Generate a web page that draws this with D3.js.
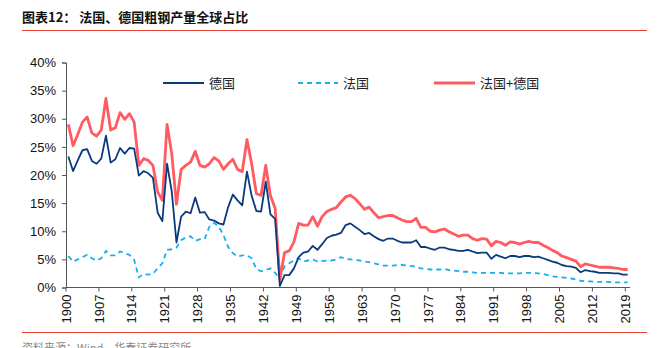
<!DOCTYPE html>
<html><head><meta charset="utf-8">
<script src="https://cdn.jsdelivr.net/npm/d3@7"></script>
<style>
html,body{margin:0;padding:0;background:#fff;}
svg{display:block;}
text{font-family:"Liberation Sans",Arial,sans-serif;}
.cjk{font-family:"Noto Sans CJK SC","Noto Sans",sans-serif;}
</style></head>
<body>
<svg id="chart" width="670" height="348"></svg>
<script>
const startYear = 1900, endYear = 2019;
const years = d3.range(startYear, endYear + 1);
const tickYears = [1900,1907,1914,1921,1928,1935,1942,1949,1956,1963,1970,1977,1984,1991,1998,2005,2012,2019];
const yTicks = [0,5,10,15,20,25,30,35,40];

const germany = [
23.3,20.7,22.6,24.4,24.6,22.5,22.0,22.9,27.0,22.2,
22.8,24.8,23.8,24.8,24.7,19.9,20.7,20.3,19.5,13.3,
11.8,22.0,17.1,8.0,12.6,13.5,13.2,16.0,13.3,13.4,
12.1,11.9,11.4,11.2,14.3,16.5,15.5,14.6,20.6,16.3,
13.6,13.5,18.8,13.0,12.2,0.3,2.2,2.2,3.4,5.4,
6.2,6.4,7.4,6.7,7.7,8.8,9.2,9.4,9.7,11.1,
11.4,10.8,10.2,9.5,9.7,9.1,8.6,8.3,8.7,8.7,
8.3,8.0,8.0,8.0,8.4,7.2,7.2,6.9,6.7,7.1,
7.1,6.8,6.7,6.5,6.5,6.7,6.4,6.1,6.2,6.2,
5.1,5.8,5.5,5.2,5.6,5.6,5.4,5.6,5.6,5.4,
5.5,5.2,4.9,4.6,4.4,4.0,3.8,3.7,3.5,2.7,
3.1,2.9,2.8,2.6,2.6,2.6,2.5,2.5,2.3,2.3];

const france = [
5.6,4.6,5.0,5.4,5.8,5.2,4.8,5.2,6.5,5.7,
5.7,6.4,6.1,5.8,4.9,1.8,2.4,2.3,2.4,3.4,
4.3,6.7,6.8,7.1,8.4,8.9,9.1,8.3,8.6,8.6,
10.8,11.5,10.8,9.3,7.2,6.1,5.5,5.7,5.7,5.2,
3.3,2.9,3.1,3.4,2.6,1.6,3.8,4.3,4.8,5.2,
4.6,4.8,5.0,4.6,4.7,4.8,4.8,5.0,5.4,5.1,
5.0,4.9,4.8,4.6,4.5,4.3,4.1,3.9,3.9,3.9,
4.0,4.0,3.9,3.8,3.7,3.4,3.3,3.2,3.2,3.2,
3.3,3.1,3.0,2.9,2.8,2.8,2.7,2.6,2.6,2.6,
2.6,2.6,2.6,2.5,2.5,2.5,2.5,2.6,2.6,2.6,
2.5,2.4,2.2,2.0,1.9,1.8,1.7,1.6,1.4,1.2,
1.1,1.1,1.0,1.0,1.0,1.0,0.9,0.9,0.9,0.9];

const combined = [
29.0,25.2,27.2,29.4,30.3,27.5,26.9,28.0,33.6,28.0,
28.4,31.1,29.9,30.9,29.4,21.7,22.9,22.6,21.7,17.0,
15.5,29.0,23.8,14.8,21.0,21.7,22.3,24.2,21.7,21.4,
22.0,23.1,22.5,21.0,22.0,22.8,21.0,20.6,26.3,22.0,
16.7,16.4,21.7,16.3,14.1,1.4,6.2,6.5,8.1,11.4,
11.1,11.1,12.6,10.9,12.6,13.5,13.9,14.2,15.2,16.1,
16.4,15.8,14.9,13.9,14.3,13.3,12.4,12.6,12.8,12.8,
12.4,12.0,11.7,11.7,12.3,10.7,10.7,10.0,9.9,10.2,
10.4,9.9,9.5,9.1,9.3,9.3,8.7,8.4,8.7,8.6,
7.4,8.2,8.0,7.5,8.1,8.0,7.7,8.0,8.2,8.0,
8.0,7.5,7.1,6.6,6.2,5.6,5.3,5.0,4.7,3.7,
4.2,4.0,3.8,3.6,3.6,3.6,3.5,3.4,3.2,3.2];

const seriesNames = ["德国","法国","法国+德国"];
const seriesColors = ["#0A3A7C","#1AAEEF","#FF5B61"];

const svg = d3.select("#chart");

// Title
svg.append("text").attr("class","cjk").attr("x",22).attr("y",22)
  .attr("font-size",13).attr("font-weight","bold").attr("fill","#111")
  .text("图表12：   法国、德国粗钢产量全球占比");
svg.append("line").attr("x1",22).attr("x2",647).attr("y1",30.5).attr("y2",30.5)
  .attr("stroke","#E8412F").attr("stroke-width",1);

// Scales
const x = d3.scaleBand().domain(years).range([66,630]).padding(0);
const xc = d => x(d) + x.bandwidth()/2;
const y = d3.scaleLinear().domain([0,40]).range([287.5,62.5]);

// Y axis
const yAxis = d3.axisLeft(y).tickValues(yTicks).tickSize(4).tickPadding(6)
  .tickFormat(d => d + "%");
const gy = svg.append("g").attr("transform","translate(66,0)").call(yAxis);
gy.select(".domain").attr("stroke","#555");
gy.selectAll(".tick line").attr("stroke","#555");
gy.selectAll(".tick text").attr("font-size",13).attr("fill","#111")
  .attr("font-family","Liberation Sans, Arial, sans-serif");

// X axis
const xPos = d3.scaleLinear().domain([startYear, endYear + 1]).range([66,630]);
const gx = svg.append("g").attr("transform","translate(0,287.5)");
gx.append("line").attr("x1",66).attr("x2",630).attr("y1",0).attr("y2",0).attr("stroke","#555");
const xt = gx.selectAll("g.t").data(tickYears).join("g").attr("class","t")
  .attr("transform", d => `translate(${x(d)},0)`);
xt.append("line").attr("y1",0).attr("y2",4).attr("stroke","#555");
xt.append("text").attr("transform","rotate(-90)").attr("x",-7).attr("y",0)
  .attr("dy","0.36em").attr("text-anchor","end").attr("font-size",13).attr("fill","#111")
  .text(d => d);

// Lines
const lineGen = d3.line().x((d,i) => xc(years[i])).y(d => y(d));
svg.append("path").datum(france).attr("d",lineGen).attr("fill","none")
  .attr("stroke",seriesColors[1]).attr("stroke-width",1.8).attr("stroke-dasharray","5,4");
svg.append("path").datum(combined).attr("d",lineGen).attr("fill","none")
  .attr("stroke",seriesColors[2]).attr("stroke-width",2.8).attr("stroke-linejoin","round");
svg.append("path").datum(germany).attr("d",lineGen).attr("fill","none")
  .attr("stroke",seriesColors[0]).attr("stroke-width",1.8).attr("stroke-linejoin","round");

// Legend
const legendItems = [
  {name:seriesNames[0], color:seriesColors[0], x1:163, x2:204, dash:null, w:2},
  {name:seriesNames[1], color:seriesColors[1], x1:298, x2:338, dash:"5,4", w:2},
  {name:seriesNames[2], color:seriesColors[2], x1:434, x2:475, dash:null, w:3}
];
const lg = svg.append("g");
legendItems.forEach(it => {
  lg.append("line").attr("x1",it.x1).attr("x2",it.x2).attr("y1",83).attr("y2",83)
    .attr("stroke",it.color).attr("stroke-width",it.w).attr("stroke-dasharray",it.dash);
  lg.append("text").attr("class","cjk").attr("x",it.x2+5).attr("y",83).attr("dy","0.35em")
    .attr("font-size",13).attr("fill","#222").text(it.name);
});

// Footer
svg.append("line").attr("x1",22).attr("x2",647).attr("y1",332.5).attr("y2",332.5)
  .attr("stroke","#E8412F").attr("stroke-width",1);
svg.append("text").attr("class","cjk").attr("x",22).attr("y",352)
  .attr("font-size",11).attr("fill","#888").text("资料来源：Wind，华泰证券研究所");
</script>
</body></html>
